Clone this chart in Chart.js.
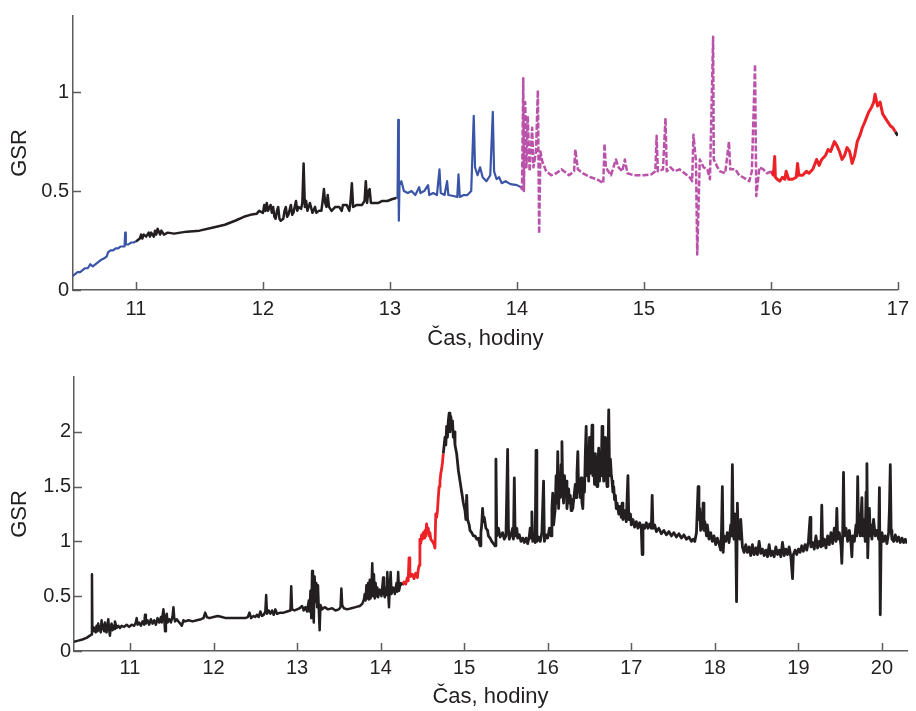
<!DOCTYPE html>
<html>
<head>
<meta charset="utf-8">
<script src="https://cdn.jsdelivr.net/npm/chart.js@4.4.0/dist/chart.umd.min.js"></script>
<style>
  html, body { margin: 0; padding: 0; background: #fff; }
  #wrap { position: relative; width: 916px; height: 711px; }
  .panel { position: absolute; left: 0; width: 916px; }
</style>
</head>
<body>
<div id="wrap">
  <div class="panel" style="top:0;height:355px"><canvas id="topChart" width="916" height="355"></canvas></div>
  <div class="panel" style="top:355px;height:356px"><canvas id="bottomChart" width="916" height="356"></canvas></div>
</div>
<script>
// tick values
const topXTicks = [11, 12, 13, 14, 15, 16, 17];
const topYTicks = [0, 0.5, 1];
const bottomXTicks = [11, 12, 13, 14, 15, 16, 17, 18, 19, 20];
const bottomYTicks = [0, 0.5, 1, 1.5, 2];

// top panel, [time in hours, GSR]
const topBlue1 = [[10.50,0.07],[10.52,0.08],[10.54,0.09],[10.56,0.09],[10.58,0.10],[10.60,0.11],[10.62,0.11],[10.64,0.13],
  [10.66,0.12],[10.68,0.13],[10.70,0.14],[10.72,0.15],[10.75,0.16],[10.77,0.17],[10.78,0.19],[10.80,0.20],[10.82,0.20],
  [10.84,0.21],[10.86,0.21],[10.88,0.22],[10.91,0.22],[10.915,0.29],[10.92,0.23],[10.94,0.23],[10.96,0.24],[10.98,0.24],
  [11.00,0.245]];
const topBlack1 = [[11.00,0.245],[11.03,0.26],[11.04,0.28],[11.05,0.26],[11.06,0.28],[11.08,0.27],[11.10,0.29],[11.11,0.27],
  [11.12,0.29],[11.14,0.27],[11.15,0.30],[11.16,0.28],[11.17,0.31],[11.19,0.28],[11.20,0.30],[11.22,0.28],[11.25,0.29],
  [11.30,0.285],[11.35,0.29],[11.40,0.295],[11.50,0.30],[11.60,0.315],[11.70,0.33],[11.78,0.35],[11.85,0.37],[11.90,0.38],
  [11.95,0.385],[11.97,0.40],[12.00,0.39],[12.01,0.43],[12.02,0.40],[12.03,0.44],[12.04,0.40],[12.06,0.43],[12.07,0.39],
  [12.08,0.42],[12.09,0.37],[12.10,0.36],[12.11,0.40],[12.12,0.42],[12.13,0.36],[12.14,0.35],[12.16,0.36],[12.17,0.40],
  [12.18,0.42],[12.19,0.37],[12.20,0.38],[12.22,0.43],[12.23,0.38],[12.24,0.39],[12.26,0.45],[12.27,0.40],[12.28,0.42],
  [12.30,0.41],[12.31,0.44],[12.32,0.64],[12.33,0.42],[12.34,0.45],[12.35,0.40],[12.37,0.44],[12.39,0.39],[12.41,0.42],
  [12.42,0.39],[12.44,0.40],[12.46,0.40],[12.47,0.45],[12.48,0.51],[12.49,0.44],[12.50,0.42],[12.51,0.48],[12.52,0.42],
  [12.54,0.40],[12.57,0.42],[12.60,0.42],[12.62,0.40],[12.63,0.43],[12.66,0.43],[12.68,0.40],[12.69,0.45],[12.70,0.54],
  [12.71,0.42],[12.74,0.43],[12.78,0.43],[12.80,0.45],[12.81,0.55],[12.82,0.44],[12.83,0.50],[12.84,0.51],[12.85,0.44],
  [12.88,0.44],[12.91,0.44],[12.94,0.45],[12.98,0.45],[13.02,0.46],[13.05,0.465]];
const topBlue2 = [[13.05,0.465],[13.06,0.47],[13.065,0.86],[13.07,0.35],[13.075,0.53],[13.09,0.55],[13.11,0.50],[13.14,0.49],
  [13.17,0.50],[13.20,0.48],[13.23,0.52],[13.24,0.49],[13.27,0.50],[13.30,0.53],[13.31,0.48],[13.34,0.49],[13.37,0.48],
  [13.39,0.61],[13.40,0.49],[13.43,0.48],[13.45,0.55],[13.46,0.48],[13.50,0.475],[13.53,0.47],[13.54,0.585],[13.55,0.47],
  [13.58,0.48],[13.61,0.48],[13.64,0.50],[13.66,0.88],[13.67,0.62],[13.69,0.58],[13.71,0.62],[13.73,0.57],[13.76,0.55],
  [13.79,0.58],[13.81,0.90],[13.82,0.60],[13.84,0.56],[13.86,0.57],[13.88,0.54],[13.91,0.55],[13.95,0.535],[14.00,0.53],
  [14.03,0.52]];
const topMagenta = [[14.03,0.52],[14.04,0.51],[14.05,1.07],[14.055,0.50],[14.065,0.95],[14.075,0.62],[14.085,0.88],[14.10,0.60],
  [14.12,0.82],[14.13,0.62],[14.15,0.70],[14.165,1.01],[14.175,0.285],[14.185,0.70],[14.20,0.65],[14.23,0.60],[14.27,0.58],
  [14.31,0.59],[14.35,0.61],[14.41,0.58],[14.45,0.60],[14.46,0.71],[14.48,0.61],[14.52,0.59],[14.58,0.57],[14.63,0.56],
  [14.68,0.54],[14.69,0.74],[14.70,0.62],[14.74,0.58],[14.78,0.66],[14.80,0.62],[14.83,0.60],[14.85,0.66],[14.87,0.59],
  [14.92,0.58],[15.00,0.58],[15.06,0.585],[15.09,0.60],[15.10,0.78],[15.11,0.60],[15.15,0.61],[15.17,0.87],[15.18,0.60],
  [15.21,0.62],[15.24,0.60],[15.28,0.61],[15.32,0.59],[15.36,0.57],[15.38,0.55],[15.39,0.785],[15.41,0.65],[15.42,0.18],
  [15.44,0.66],[15.47,0.62],[15.50,0.61],[15.52,0.56],[15.545,1.28],[15.55,0.66],[15.58,0.62],[15.60,0.60],[15.64,0.59],
  [15.67,0.75],[15.68,0.61],[15.72,0.61],[15.75,0.58],[15.78,0.57],[15.83,0.55],[15.85,0.60],[15.875,1.14],[15.885,0.475],
  [15.91,0.62],[15.94,0.61],[15.97,0.59],[16.00,0.60]];
const topRed = [[16.00,0.60],[16.02,0.58],[16.03,0.675],[16.035,0.57],[16.05,0.56],[16.07,0.55],[16.09,0.57],[16.11,0.56],
  [16.12,0.60],[16.14,0.56],[16.17,0.56],[16.20,0.57],[16.21,0.64],[16.22,0.58],[16.25,0.58],[16.28,0.60],[16.30,0.59],
  [16.33,0.61],[16.36,0.66],[16.38,0.63],[16.40,0.66],[16.43,0.68],[16.45,0.71],[16.47,0.70],[16.50,0.75],[16.52,0.73],
  [16.54,0.70],[16.56,0.66],[16.58,0.68],[16.60,0.72],[16.62,0.70],[16.64,0.64],[16.66,0.68],[16.68,0.75],[16.70,0.78],
  [16.72,0.82],[16.74,0.85],[16.77,0.90],[16.79,0.92],[16.81,0.95],[16.82,0.99],[16.84,0.93],[16.86,0.95],[16.88,0.89],
  [16.91,0.86],[16.94,0.83],[16.96,0.82],[16.98,0.80]];
const topBlack2 = [[16.98,0.80],[16.99,0.79],[17.00,0.78]];

// bottom panel
const bottomBlack1 = [[10.33,0.085],[10.38,0.095],[10.43,0.105],[10.48,0.12],[10.52,0.14],[10.54,0.15],[10.545,0.70],[10.55,0.18],
  [10.56,0.22],[10.57,0.18],[10.58,0.21],[10.59,0.17],[10.60,0.23],[10.61,0.18],[10.62,0.25],[10.63,0.19],[10.64,0.22],
  [10.65,0.17],[10.66,0.28],[10.67,0.20],[10.68,0.24],[10.69,0.18],[10.70,0.26],[10.71,0.20],[10.72,0.17],[10.73,0.23],
  [10.74,0.29],[10.75,0.20],[10.76,0.14],[10.77,0.22],[10.78,0.25],[10.79,0.19],[10.80,0.23],[10.81,0.20],[10.82,0.27],
  [10.84,0.21],[10.86,0.23],[10.88,0.21],[10.90,0.23],[10.93,0.22],[10.96,0.24],[10.99,0.22],[11.02,0.24],[11.05,0.23],
  [11.07,0.26],[11.08,0.30],[11.09,0.24],[11.11,0.26],[11.13,0.23],[11.15,0.27],[11.17,0.24],[11.18,0.33],[11.19,0.25],
  [11.21,0.28],[11.23,0.24],[11.25,0.29],[11.27,0.25],[11.29,0.28],[11.31,0.24],[11.33,0.30],[11.35,0.26],[11.37,0.31],
  [11.38,0.26],[11.40,0.38],[11.41,0.30],[11.42,0.18],[11.43,0.30],[11.44,0.34],[11.45,0.26],[11.47,0.29],[11.49,0.26],
  [11.51,0.32],[11.52,0.40],[11.53,0.30],[11.54,0.27],[11.56,0.29],[11.58,0.27],[11.60,0.25],[11.62,0.23],[11.64,0.28],
  [11.66,0.27],[11.70,0.28],[11.75,0.27],[11.80,0.28],[11.85,0.29],[11.88,0.30],[11.90,0.35],[11.92,0.31],[11.95,0.30],
  [12.00,0.31],[12.05,0.32],[12.10,0.31],[12.15,0.30],[12.20,0.30],[12.30,0.30],[12.38,0.30],[12.41,0.31],[12.43,0.35],
  [12.45,0.30],[12.48,0.32],[12.50,0.31],[12.52,0.33],[12.54,0.31],[12.56,0.36],[12.58,0.32],[12.60,0.33],[12.62,0.36],
  [12.63,0.51],[12.64,0.34],[12.66,0.37],[12.68,0.34],[12.70,0.37],[12.72,0.33],[12.74,0.38],[12.76,0.34],[12.80,0.35],
  [12.84,0.35],[12.88,0.36],[12.92,0.37],[12.93,0.59],[12.94,0.38],[12.97,0.37],[13.00,0.38],[13.03,0.39],[13.06,0.41],
  [13.08,0.37],[13.10,0.40],[13.12,0.36],[13.14,0.46],[13.15,0.36],[13.16,0.55],[13.17,0.30],[13.18,0.73],[13.19,0.40],
  [13.20,0.26],[13.21,0.68],[13.22,0.45],[13.23,0.62],[13.24,0.40],[13.25,0.60],[13.26,0.38],[13.27,0.19],[13.28,0.42],
  [13.30,0.38],[13.33,0.40],[13.37,0.38],[13.42,0.39],[13.46,0.37],[13.50,0.38],[13.52,0.40],[13.53,0.57],[13.54,0.42],
  [13.56,0.39],[13.60,0.38],[13.65,0.39],[13.70,0.40],[13.75,0.41],[13.78,0.43],[13.80,0.47],[13.81,0.52],[13.82,0.46],
  [13.83,0.60],[13.84,0.48],[13.85,0.62],[13.86,0.47],[13.87,0.65],[13.88,0.48],[13.89,0.58],[13.90,0.80],[13.91,0.50],
  [13.92,0.70],[13.93,0.48],[13.94,0.62],[13.95,0.50],[13.96,0.58],[13.97,0.49],[13.99,0.56],[14.01,0.50],[14.03,0.67],
  [14.04,0.52],[14.05,0.49],[14.06,0.58],[14.07,0.51],[14.08,0.72],[14.09,0.55],[14.10,0.40],[14.11,0.60],[14.12,0.72],
  [14.13,0.52],[14.15,0.58],[14.17,0.52],[14.19,0.62],[14.20,0.54],[14.21,0.72],[14.22,0.55],[14.24,0.62],[14.26,0.60]];
const bottomRed = [[14.26,0.60],[14.28,0.63],[14.30,0.61],[14.32,0.67],[14.33,0.64],[14.34,0.85],[14.35,0.72],[14.36,0.68],
  [14.38,0.70],[14.40,0.66],[14.42,0.71],[14.44,0.67],[14.45,0.74],[14.46,0.78],[14.47,1.02],[14.48,0.98],[14.49,1.06],
  [14.50,1.02],[14.51,1.08],[14.52,1.03],[14.53,1.10],[14.54,1.05],[14.55,1.16],[14.56,1.08],[14.57,1.12],[14.58,1.05],
  [14.59,1.08],[14.60,1.02],[14.62,1.00],[14.64,0.97],[14.65,0.94],[14.66,1.25],[14.67,1.22],[14.68,1.28],[14.69,1.40],
  [14.70,1.50],[14.71,1.55],[14.72,1.62],[14.73,1.66],[14.74,1.72],[14.75,1.80]];
const bottomBlack2 = [[14.75,1.80],[14.77,1.95],[14.78,1.88],[14.79,2.05],[14.80,1.95],[14.81,2.10],[14.82,2.17],[14.83,2.00],
  [14.84,2.14],[14.85,2.05],[14.86,2.10],[14.87,1.95],[14.88,2.00],[14.89,1.88],[14.91,1.80],[14.93,1.65],[14.95,1.55],
  [14.97,1.45],[14.99,1.35],[15.01,1.28],[15.02,1.20],[15.03,1.42],[15.04,1.20],[15.06,1.15],[15.07,1.10],[15.09,1.08],
  [15.11,1.05],[15.13,1.05],[15.15,1.02],[15.17,1.03],[15.19,0.96],[15.20,1.08],[15.21,1.15],[15.22,1.30],[15.23,1.18],
  [15.24,1.22],[15.26,1.12],[15.28,1.10],[15.29,1.05],[15.31,1.03],[15.33,1.00],[15.35,0.98],[15.37,0.96],[15.38,1.75],
  [15.39,1.05],[15.41,1.12],[15.43,1.04],[15.46,1.08],[15.48,1.02],[15.50,1.05],[15.52,1.84],[15.53,1.10],[15.54,1.02],
  [15.56,1.06],[15.58,1.12],[15.59,1.02],[15.60,1.58],[15.61,1.05],[15.63,1.12],[15.64,1.03],[15.66,1.06],[15.68,1.00],
  [15.70,1.03],[15.72,0.99],[15.74,1.03],[15.76,0.98],[15.78,1.05],[15.79,1.12],[15.80,1.03],[15.81,1.27],[15.82,1.00],
  [15.84,1.05],[15.85,0.99],[15.86,1.83],[15.87,1.00],[15.89,1.04],[15.91,1.00],[15.93,1.08],[15.95,1.55],[15.96,1.00],
  [15.98,1.06],[16.00,1.03],[16.02,1.12],[16.04,1.05],[16.05,1.30],[16.06,1.44],[16.07,1.15],[16.09,1.30],[16.10,1.60],
  [16.11,1.35],[16.12,1.82],[16.13,1.30],[16.14,1.55],[16.15,1.40],[16.16,1.70],[16.17,1.91],[16.18,1.45],[16.19,1.35],
  [16.20,1.60],[16.21,1.45],[16.22,1.55],[16.23,1.30],[16.25,1.48],[16.26,1.35],[16.27,1.42],[16.28,1.28],[16.29,1.38],
  [16.30,1.30],[16.32,1.45],[16.33,1.52],[16.34,1.40],[16.35,1.62],[16.36,1.82],[16.37,1.45],[16.38,1.55],[16.39,1.40],
  [16.40,1.58],[16.41,1.35],[16.42,1.30],[16.43,1.55],[16.44,1.45],[16.45,1.80],[16.46,2.05],[16.47,1.60],[16.48,1.75],
  [16.49,1.55],[16.50,1.95],[16.51,1.62],[16.52,1.80],[16.53,2.06],[16.54,1.60],[16.55,1.72],[16.56,1.52],[16.57,1.80],
  [16.58,1.55],[16.59,1.50],[16.60,1.70],[16.61,1.85],[16.62,1.55],[16.63,1.75],[16.64,1.60],[16.65,2.05],[16.66,1.70],
  [16.67,1.55],[16.68,1.80],[16.69,1.95],[16.70,1.60],[16.71,1.50],[16.72,1.75],[16.73,2.20],[16.74,1.60],[16.75,1.75],
  [16.76,1.62],[16.77,1.55],[16.78,1.45],[16.79,1.50],[16.80,1.38],[16.81,1.42],[16.82,1.30],[16.83,1.35],[16.85,1.25],
  [16.86,1.32],[16.88,1.22],[16.89,1.35],[16.90,1.20],[16.92,1.28],[16.94,1.18],[16.96,1.60],[16.97,1.20],[16.99,1.25],
  [17.00,1.15],[17.02,1.20],[17.04,1.13],[17.06,1.18],[17.08,1.12],[17.10,1.17],[17.12,1.12],[17.13,0.88],[17.14,1.15],
  [17.16,1.12],[17.18,1.17],[17.20,1.12],[17.22,1.16],[17.24,1.12],[17.25,1.42],[17.26,1.12],[17.28,1.15],[17.30,1.09],
  [17.33,1.12],[17.36,1.07],[17.39,1.10],[17.42,1.06],[17.45,1.09],[17.48,1.05],[17.51,1.08],[17.54,1.04],[17.57,1.07],
  [17.60,1.03],[17.63,1.06],[17.66,1.02],[17.69,1.04],[17.72,1.00],[17.74,1.02],[17.76,1.00],[17.78,1.08],[17.80,1.50],
  [17.81,1.20],[17.82,1.30],[17.83,1.10],[17.84,1.25],[17.85,1.12],[17.86,1.35],[17.87,1.10],[17.88,1.18],[17.90,1.05],
  [17.91,1.15],[17.93,1.02],[17.95,1.08],[17.97,1.00],[17.99,1.05],[18.01,0.97],[18.03,1.03],[18.05,0.98],[18.07,0.92],
  [18.08,1.10],[18.09,1.50],[18.10,0.90],[18.11,1.05],[18.13,1.00],[18.15,1.08],[18.17,0.99],[18.19,1.15],[18.20,1.05],
  [18.21,1.70],[18.22,1.08],[18.23,1.02],[18.24,1.25],[18.25,1.10],[18.26,0.45],[18.27,1.35],[18.28,1.05],[18.29,1.15],
  [18.30,1.02],[18.31,1.20],[18.33,0.95],[18.35,0.90],[18.37,0.97],[18.39,0.90],[18.41,0.95],[18.43,0.87],[18.45,0.97],
  [18.47,0.88],[18.49,0.94],[18.51,0.88],[18.53,1.00],[18.55,0.89],[18.57,0.93],[18.59,0.87],[18.61,0.92],[18.63,0.86],
  [18.65,0.97],[18.67,0.87],[18.69,0.91],[18.71,0.86],[18.73,0.95],[18.75,0.88],[18.77,0.92],[18.79,0.86],[18.81,0.99],
  [18.83,0.87],[18.85,0.93],[18.87,0.88],[18.89,0.95],[18.91,0.86],[18.93,0.66],[18.94,0.88],[18.96,0.92],[18.98,0.88],
  [19.00,0.93],[19.02,0.90],[19.04,0.96],[19.06,0.91],[19.08,0.97],[19.10,0.92],[19.12,1.00],[19.14,1.22],[19.15,0.95],
  [19.17,0.99],[19.19,0.93],[19.21,1.05],[19.23,0.94],[19.25,1.00],[19.27,0.95],[19.28,1.33],[19.29,0.96],[19.31,1.02],
  [19.33,0.94],[19.35,1.05],[19.37,0.97],[19.39,1.08],[19.41,0.98],[19.43,1.12],[19.45,1.00],[19.46,1.30],[19.47,1.02],
  [19.49,1.08],[19.51,0.96],[19.52,0.80],[19.53,1.05],[19.54,1.63],[19.55,1.05],[19.57,1.12],[19.59,1.00],[19.61,1.10],
  [19.63,0.98],[19.64,0.86],[19.65,1.05],[19.67,1.00],[19.69,1.15],[19.70,1.05],[19.71,1.59],[19.72,1.08],[19.73,1.25],
  [19.74,1.05],[19.76,1.40],[19.77,1.05],[19.79,1.20],[19.80,1.00],[19.81,1.45],[19.82,1.71],[19.83,0.85],[19.84,1.15],
  [19.85,1.30],[19.86,1.05],[19.87,1.15],[19.88,1.02],[19.90,1.20],[19.92,1.05],[19.94,1.10],[19.96,1.02],[19.97,1.49],
  [19.98,0.33],[19.99,1.00],[20.00,1.08],[20.02,1.00],[20.04,1.05],[20.06,0.98],[20.08,1.08],[20.09,1.30],[20.10,1.70],
  [20.11,1.10],[20.12,1.02],[20.14,1.00],[20.16,1.06],[20.18,1.00],[20.20,1.04],[20.22,0.99],[20.24,1.03],[20.26,0.99],
  [20.28,1.02],[20.30,0.98]];

const blue = '#3a55a8';
const black = '#231f20';
const magenta = '#bb52aa';
const red = '#ec2227';
const axisColor = '#5c5c5c';
const textColor = '#231f20';
const fontFamily = '"Liberation Sans", Arial, sans-serif';

const toPoints = (pairs) => pairs.map(([x, y]) => ({ x, y }));

const line = (pairs, color, width, dash) => ({
  data: toPoints(pairs),
  borderColor: color,
  borderWidth: width,
  borderDash: dash || [],
  borderJoinStyle: 'round',
  pointRadius: 0,
  tension: 0,
  fill: false,
});

// MATLAB style tick marks pointing into the plot
const inwardTicks = {
  id: 'inwardTicks',
  afterDraw(chart) {
    const { ctx, chartArea, scales } = chart;
    ctx.save();
    ctx.strokeStyle = axisColor;
    ctx.lineWidth = 1.5;
    ctx.beginPath();
    scales.x.ticks.forEach((t) => {
      const px = Math.round(scales.x.getPixelForValue(t.value)) + 0.5;
      ctx.moveTo(px, chartArea.bottom);
      ctx.lineTo(px, chartArea.bottom - 8);
    });
    scales.y.ticks.forEach((t) => {
      const py = Math.round(scales.y.getPixelForValue(t.value)) + 0.5;
      ctx.moveTo(chartArea.left, py);
      ctx.lineTo(chartArea.left + 8, py);
    });
    ctx.stroke();
    ctx.restore();
  },
};

const makeChart = (id, cfg) => {
  const tickFont = { family: fontFamily, size: 20 };
  const titleFont = { family: fontFamily, size: 22 };
  return new Chart(document.getElementById(id), {
    type: 'line',
    data: { datasets: cfg.datasets },
    options: {
      responsive: false,
      animation: false,
      parsing: false,
      layout: { padding: cfg.padding },
      plugins: { legend: { display: false }, tooltip: { enabled: false } },
      scales: {
        x: {
          type: 'linear',
          min: cfg.xMin,
          max: cfg.xMax,
          afterBuildTicks: (s) => { s.ticks = cfg.xTicks.map((v) => ({ value: v })); },
          afterFit: (s) => { s.height = cfg.xHeight; },
          grid: { display: false, drawTicks: false },
          border: { display: true, color: axisColor, width: 1.5 },
          ticks: { color: textColor, font: tickFont, padding: cfg.xTickPad, maxRotation: 0, callback: (v) => String(v) },
          title: { display: true, text: 'Čas, hodiny', color: textColor, font: titleFont, padding: { top: 0, bottom: cfg.xTitlePad } },
        },
        y: {
          type: 'linear',
          min: cfg.yMin,
          max: cfg.yMax,
          afterBuildTicks: (s) => { s.ticks = cfg.yTicks.map((v) => ({ value: v })); },
          afterFit: (s) => { s.width = cfg.yWidth; },
          grid: { display: false, drawTicks: false },
          border: { display: true, color: axisColor, width: 1.5 },
          ticks: { color: textColor, font: tickFont, padding: cfg.yTickPad, callback: (v) => String(v) },
          title: { display: true, text: 'GSR', color: textColor, font: titleFont, padding: { top: cfg.yTitlePad, bottom: 0 } },
        },
      },
    },
    plugins: [inwardTicks],
  });
};

makeChart('topChart', {
  datasets: [
    line(topBlue1, blue, 2.2),
    line(topBlack1, black, 2.5),
    line(topBlue2, blue, 2.2),
    line(topMagenta, magenta, 2.5, [6, 2]),
    line(topRed, red, 3),
    line(topBlack2, black, 3),
  ],
  xMin: 10.504, xMax: 17.0, yMin: 0, yMax: 1.385,
  xTicks: topXTicks, yTicks: topYTicks,
  padding: { top: 13, right: 14, left: 0, bottom: 0 },
  xHeight: 65, yWidth: 73,
  xTickPad: 7, yTickPad: 4, xTitlePad: 3, yTitlePad: 7,
});

makeChart('bottomChart', {
  datasets: [
    line(bottomBlack1, black, 2.5),
    line(bottomRed, red, 2.8),
    line(bottomBlack2, black, 2.8),
  ],
  xMin: 10.33, xMax: 20.3, yMin: 0, yMax: 2.5,
  xTicks: bottomXTicks, yTicks: bottomYTicks,
  padding: { top: 22, right: 9, left: 0, bottom: 0 },
  xHeight: 60, yWidth: 74,
  xTickPad: 5, yTickPad: 3, xTitlePad: 1, yTitlePad: 7,
});
</script>
</body>
</html>
